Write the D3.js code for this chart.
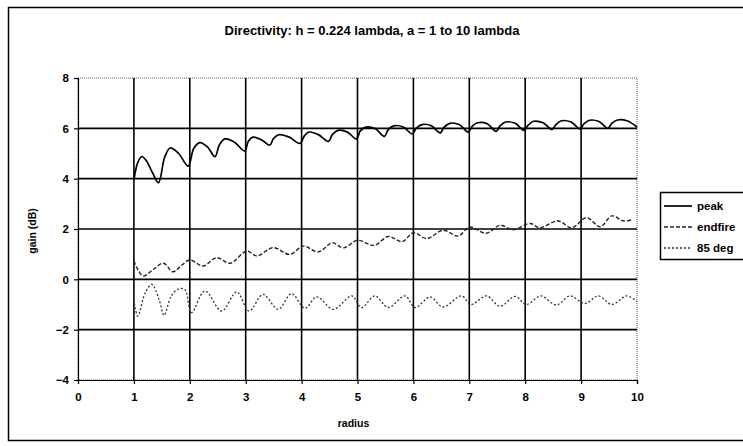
<!DOCTYPE html>
<html><head><meta charset="utf-8">
<script src="https://cdn.jsdelivr.net/npm/d3@7"></script>
<style>
html,body{margin:0;padding:0;background:#fff;}
svg text{font-family:"Liberation Sans",Arial,sans-serif;font-weight:bold;fill:#000;}
</style></head>
<body>
<svg id="chart" width="743" height="446"></svg>
<script>
const titleText = "Directivity: h = 0.224 lambda, a = 1 to 10 lambda";
const xTicks = [0,1,2,3,4,5,6,7,8,9,10];
const yTicks = [-4,-2,0,2,4,6,8];
const seriesNames = ["peak","endfire","85 deg"];

const peakX = [1.00,1.07,1.14,1.22,1.33,1.44,1.55,1.65,1.80,1.97,2.07,2.18,2.32,2.45,2.53,2.63,2.80,2.98,3.05,3.13,3.28,3.43,3.50,3.60,3.78,3.97,4.05,4.13,4.30,4.48,4.55,4.65,4.82,4.98,5.05,5.15,5.32,5.48,5.55,5.65,5.82,5.98,6.05,6.15,6.32,6.48,6.55,6.65,6.82,6.98,7.05,7.15,7.32,7.48,7.55,7.65,7.82,7.98,8.05,8.15,8.32,8.48,8.55,8.65,8.82,8.98,9.05,9.15,9.32,9.48,9.55,9.65,9.82,10.0];
const peakY = [3.95,4.65,4.88,4.72,4.25,3.84,4.85,5.22,5.00,4.50,5.20,5.43,5.25,4.87,5.35,5.58,5.45,5.10,5.50,5.65,5.55,5.33,5.60,5.75,5.65,5.40,5.70,5.85,5.75,5.48,5.75,5.92,5.85,5.58,5.90,6.05,5.98,5.68,5.95,6.10,6.05,5.78,6.00,6.15,6.10,5.82,6.05,6.20,6.15,5.85,6.08,6.22,6.18,5.88,6.10,6.25,6.20,5.92,6.12,6.28,6.22,5.95,6.15,6.30,6.25,5.98,6.18,6.32,6.27,6.00,6.20,6.33,6.30,6.05];

const endfireX = [1.00,1.08,1.17,1.35,1.53,1.70,1.85,2.00,2.24,2.48,2.72,3.02,3.20,3.49,3.79,4.03,4.30,4.55,4.75,5.00,5.30,5.55,5.80,6.00,6.24,6.53,6.80,7.01,7.30,7.55,7.78,8.09,8.26,8.59,8.83,9.10,9.34,9.55,9.76,9.93];
const endfireY = [0.73,0.35,0.13,0.40,0.64,0.30,0.55,0.77,0.53,0.86,0.64,1.12,0.93,1.26,0.99,1.32,1.09,1.45,1.25,1.55,1.35,1.70,1.50,1.85,1.62,1.95,1.72,2.08,1.83,2.15,1.97,2.22,2.05,2.32,2.05,2.45,2.09,2.52,2.32,2.38];

const deg85X = [1.00,1.02,1.07,1.20,1.32,1.45,1.54,1.66,1.78,1.91,2.03,2.27,2.57,2.84,3.06,3.31,3.58,3.82,4.06,4.27,4.57,4.90,5.07,5.31,5.55,5.85,6.03,6.30,6.53,6.86,7.03,7.31,7.55,7.82,8.02,8.28,8.56,8.80,9.07,9.31,9.55,9.82,10.0];
const deg85Y = [-0.80,-1.10,-1.46,-0.55,-0.20,-0.80,-1.43,-0.70,-0.40,-0.40,-1.32,-0.46,-1.26,-0.50,-1.26,-0.60,-1.19,-0.57,-1.15,-0.70,-1.19,-0.66,-1.12,-0.66,-1.12,-0.66,-1.12,-0.70,-1.10,-0.66,-1.00,-0.66,-1.07,-0.68,-1.00,-0.66,-1.02,-0.66,-0.96,-0.66,-1.00,-0.66,-0.88];

const svg = d3.select("#chart");
const plot = {left:78, right:637, top:78, bottom:380};
const x = d3.scaleLinear().domain([0,10]).range([plot.left, plot.right]);
const y = d3.scaleLinear().domain([-4,8]).range([plot.bottom, plot.top]);

// outer frame
svg.append("rect").attr("x",8.5).attr("y",7.5).attr("width",745).attr("height",433)
  .attr("fill","none").attr("stroke","#000").attr("stroke-width",1.5);

// title
svg.append("text").attr("x",372).attr("y",35).attr("text-anchor","middle")
  .attr("font-size",13).text(titleText);

// plot border (dotted)
svg.append("rect").attr("x",plot.left).attr("y",plot.top)
  .attr("width",plot.right-plot.left).attr("height",plot.bottom-plot.top)
  .attr("fill","none").attr("stroke","#555").attr("stroke-width",1).attr("stroke-dasharray","1,1");

// gridlines
svg.append("g").selectAll("line").data(yTicks.filter(d=>d>-4 && d<8)).join("line")
  .attr("x1",plot.left).attr("x2",plot.right).attr("y1",d=>y(d)).attr("y2",d=>y(d))
  .attr("stroke","#000").attr("stroke-width",1.6);
svg.append("g").selectAll("line").data(xTicks.filter(d=>d>0 && d<10)).join("line")
  .attr("y1",plot.top).attr("y2",plot.bottom).attr("x1",d=>x(d)).attr("x2",d=>x(d))
  .attr("stroke","#000").attr("stroke-width",1.6);

// axes
const xAxis = d3.axisBottom(x).tickValues(xTicks).tickSize(4).tickPadding(9).tickFormat(d3.format("d"));
const yAxis = d3.axisLeft(y).tickValues(yTicks).tickSize(4).tickPadding(5).tickFormat(d3.format("d"));
const gx = svg.append("g").attr("transform",`translate(0,${plot.bottom})`).call(xAxis);
const gy = svg.append("g").attr("transform",`translate(${plot.left},0)`).call(yAxis);
[gx,gy].forEach(g=>{
  g.select(".domain").attr("stroke","#000").attr("stroke-width",1.2);
  g.selectAll(".tick line").attr("stroke","#000").attr("stroke-width",1.2);
  g.selectAll("text").attr("font-size",11.5).attr("font-family","'Liberation Sans',Arial,sans-serif").attr("font-weight","bold").attr("fill","#000");
});

// axis titles
svg.append("text").attr("x",(plot.left+plot.right)/2-4).attr("y",427).attr("text-anchor","middle")
  .attr("font-size",10.5).text("radius");
svg.append("text").attr("transform",`translate(36,${(plot.top+plot.bottom)/2+2}) rotate(-90)`)
  .attr("text-anchor","middle").attr("font-size",10.5).text("gain (dB)");

// series
const line = d3.line().x(d=>x(d[0])).y(d=>y(d[1])).curve(d3.curveCatmullRom.alpha(0.5));
const styles = [
  {dash:null, w:1.7, c:"#000"},
  {dash:"4,2", w:1.4, c:"#222"},
  {dash:"2,2", w:1.3, c:"#333"}
];
const allSeries = [
  d3.zip(peakX, peakY),
  d3.zip(endfireX, endfireY),
  d3.zip(deg85X, deg85Y)
];
allSeries.forEach((s,i)=>{
  svg.append("path").datum(s).attr("d",line).attr("fill","none")
    .attr("stroke",styles[i].c).attr("stroke-width",styles[i].w)
    .attr("stroke-dasharray",styles[i].dash);
});

// legend
const lg = svg.append("g");
lg.append("rect").attr("x",660.5).attr("y",192.5).attr("width",100).attr("height",67)
  .attr("fill","#fff").attr("stroke","#000").attr("stroke-width",1.5);
seriesNames.forEach((n,i)=>{
  const yy = 206 + i*21;
  lg.append("line").attr("x1",664).attr("x2",692).attr("y1",yy).attr("y2",yy)
    .attr("stroke",styles[i].c).attr("stroke-width",styles[i].w).attr("stroke-dasharray",styles[i].dash);
  lg.append("text").attr("x",697).attr("y",yy+4).attr("font-size",11.5).text(n);
});
</script>
</body></html>
